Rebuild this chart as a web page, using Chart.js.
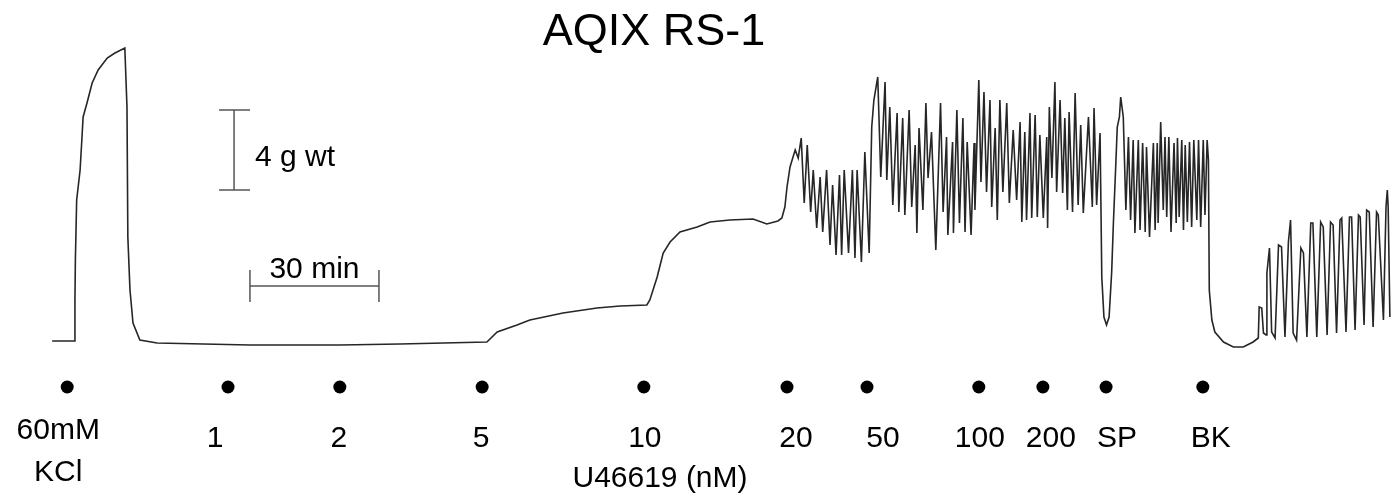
<!DOCTYPE html>
<html>
<head>
<meta charset="utf-8">
<title>AQIX RS-1</title>
<script src="https://cdn.jsdelivr.net/npm/chart.js@4/dist/chart.umd.min.js"></script>
<style>
  html, body { margin: 0; padding: 0; background: #fff; }
  #wrap { width: 1391px; height: 498px; }
</style>
</head>
<body>
<div id="wrap"><canvas id="trace" width="1391" height="498"></canvas></div>
<script>
// isometric tension trace, time in min, tension in g
const traceTime = [
  0.5, 5.6, 5.8, 5.9, 6.2, 7.0, 7.4, 7.7, 8.6, 9.8, 11.2, 13.3, 15.1, 17.4, 17.9, 18.1, 18.6, 19.3, 20.9, 24.9, 46.5, 67.4, 81.4, 101.6,
  104.0, 108.6, 111.6, 119.3, 127.2, 132.6, 138.8, 139.5, 141.2, 142.6, 144.2, 146.5, 150.5, 153.5, 158.1, 163.5, 166.7, 169.3, 170.2, 170.9, 171.4, 172.1, 172.8, 173.3, 174.0, 174.7,
  175.4, 176.1, 176.9, 177.5, 178.3, 179.1, 179.7, 180.6, 181.4, 182.0, 182.8, 183.6, 184.1, 184.7, 185.7, 186.6, 187.2, 187.7, 188.7, 189.5, 190.5,
  191.1, 191.6, 192.5, 193.2, 194.2, 194.6, 195.3, 196.0, 197.0, 197.4, 198.3, 198.8, 199.8, 200.4, 201.2, 201.6, 202.1, 203.0, 203.7, 204.2, 205.0, 206.0,
  207.1, 207.7, 208.5, 208.8, 209.9, 210.1, 210.9, 211.5, 212.3, 212.8, 213.3, 214.2, 214.9, 215.1,
  216.0, 216.5, 217.2, 217.8, 218.6, 219.0, 219.8, 220.3, 220.9, 221.6, 222.5, 223.1, 224.0, 224.8, 225.6, 226.0, 226.7, 227.1, 227.9, 228.3, 229.1, 229.6, 230.2, 231.0,
  231.8, 232.0, 232.4, 233.0, 233.7, 234.1, 234.9, 235.5, 236.0, 236.6, 237.0, 237.8, 238.4, 239.1, 239.7, 240.3, 241.5, 242.4, 242.8, 243.4, 244.2,
  244.6, 245.1, 245.7, 246.3, 246.9, 247.3, 247.9, 248.2, 248.7, 249.0, 249.6,
  250.2, 250.8, 251.3, 251.9, 252.3, 253.1, 253.5, 254.1, 254.7, 255.0, 255.7, 256.6, 257.0, 257.5, 257.7, 258.3, 258.9, 259.3, 259.7, 260.2, 260.7,
  261.4, 261.9, 262.2, 262.6, 263.2, 263.6, 264.0, 264.5, 265.0, 265.5, 266.0, 266.7, 267.1, 267.6, 268.2, 268.6, 269.1, 269.4,
  269.6, 270.2, 270.9, 272.9, 275.2, 277.5, 279.8, 281.0,
  281.2, 281.8, 282.2, 282.8, 283.0, 283.6, 284.1, 284.9, 285.7, 286.4, 287.2, 288.0, 288.5, 289.1, 289.9, 290.9, 291.5, 292.3,
  293.2, 293.7, 294.6, 295.5, 296.1, 297.0, 297.8, 298.4, 299.2, 300.0, 300.4, 301.4, 302.2, 302.7, 303.5, 304.3, 304.7, 305.6,
  306.2, 306.8, 307.7, 308.5, 308.9, 310.1, 310.7, 311.0, 311.2, 311.6
];
const traceTension = [
  0.2, 0.2, 2.25, 4.25, 7.25, 8.75, 10.25, 11.4, 12.1, 13.1, 13.75, 14.35, 14.6, 14.85, 11.9, 5.4, 2.75, 1.1, 0.25, 0.1, 0, 0, 0.05, 0.15,
  0.65, 1.0, 1.25, 1.6, 1.85, 1.95, 2.0, 2.25, 3.4, 4.6, 5.15, 5.65, 5.9, 6.15, 6.25, 6.3, 6.05, 6.2, 6.35, 6.9, 7.9, 8.9, 9.4, 9.75, 9.35, 10.35,
  7.1, 10.0, 6.65, 8.75, 5.85, 8.4, 5.65, 8.75, 5.0, 8.0, 4.5, 8.5, 4.5, 8.75, 4.6, 8.75, 4.35, 8.75, 4.15, 9.65, 4.6,
  10.9, 12.25, 13.4, 8.4, 13.15, 8.25, 11.9, 7.0, 11.6, 6.65, 11.35, 6.5, 11.75, 6.9, 10.0, 5.6, 10.85, 6.75, 12.1, 8.35, 10.65, 4.75,
  12.1, 6.65, 10.4, 5.5, 10.15, 5.6, 11.75, 6.1, 11.35, 5.65, 10.15, 5.5, 10.1, 6.75,
  13.25, 8.15, 12.65, 7.65, 12.25, 6.9, 10.85, 6.25, 12.25, 7.65, 12.1, 7.1, 10.75, 7.25, 11.15, 6.15, 10.65, 6.25, 11.6, 6.35, 11.5, 6.4, 10.5, 6.35,
  10.4, 5.85, 11.9, 8.35, 13.15, 7.65, 12.25, 7.6, 11.35, 6.75, 11.65, 6.65, 12.6, 7.0, 11.0, 6.6, 11.4, 6.9, 11.85, 7.0, 10.6,
  3.4, 1.4, 1.0, 1.4, 3.65, 6.1, 9.25, 10.9, 11.4, 12.4, 11.4,
  6.75, 10.4, 6.25, 10.25, 5.6, 10.25, 5.75, 10.1, 5.65, 9.9, 5.4, 10.1, 5.75, 10.1, 6.1, 11.15, 6.75, 10.4, 6.4, 10.4, 5.65,
  10.1, 6.1, 10.35, 6.4, 10.25, 5.75, 10.0, 6.15, 10.15, 5.9, 10.25, 6.25, 10.25, 5.9, 10.25, 6.5, 10.25, 9.25,
  2.75, 1.25, 0.65, 0.15, -0.1, -0.1, 0.15, 0.35,
  1.9, 1.85, 0.6, 0.5, 3.6, 4.85, 0.65, 0.35, 5.0, 4.9, 0.4, 5.15, 6.25, 0.6, 0.25, 4.85, 4.6, 0.4,
  6.1, 6.1, 0.4, 6.15, 5.9, 0.5, 6.15, 6.0, 0.6, 6.25, 6.35, 0.65, 6.4, 6.4, 0.75, 6.5, 6.4, 1.0,
  6.75, 6.65, 0.9, 6.65, 6.5, 1.25, 6.9, 7.75, 6.9, 1.4
];

// drug additions (min) and their labels
const doseTimes = [4.0, 41.4, 67.4, 100.5, 138.1, 171.4, 190.0, 216.0, 230.9, 245.6, 268.1];
const doseLabels = [['60mM', 'KCl'], '1', '2', '5', '10', '20', '50', '100', '200', 'SP', 'BK'];

const titleText = 'AQIX RS-1';
const drugName = 'U46619 (nM)';
const scaleTension = 4;   // g
const scaleTime = 30;     // min

const FONT = '"Liberation Sans", Arial, Helvetica, sans-serif';

const annotations = {
  id: 'annotations',
  afterDraw(chart) {
    const { ctx, scales: { x, y } } = chart;
    ctx.save();

    // title
    ctx.fillStyle = '#000';
    ctx.textAlign = 'center';
    ctx.textBaseline = 'alphabetic';
    ctx.font = `45px ${FONT}`;
    ctx.fillText(titleText, 654, 45);

    // calibration bars
    ctx.strokeStyle = '#555';
    ctx.lineWidth = 1.5;
    const bx = x.getPixelForValue(42.8);
    const bTop = y.getPixelForValue(7.75 + scaleTension);
    const bBot = y.getPixelForValue(7.75);
    ctx.beginPath();
    ctx.moveTo(bx, bTop); ctx.lineTo(bx, bBot);
    ctx.moveTo(bx - 15, bTop); ctx.lineTo(bx + 16, bTop);
    ctx.moveTo(bx - 15, bBot); ctx.lineTo(bx + 16, bBot);
    const tL = x.getPixelForValue(46.5);
    const tR = x.getPixelForValue(46.5 + scaleTime);
    const ty = y.getPixelForValue(2.95);
    ctx.moveTo(tL, ty); ctx.lineTo(tR, ty);
    ctx.moveTo(tL, ty - 16); ctx.lineTo(tL, ty + 16);
    ctx.moveTo(tR, ty - 16); ctx.lineTo(tR, ty + 16);
    ctx.stroke();

    ctx.font = `30px ${FONT}`;
    ctx.textAlign = 'left';
    ctx.fillText(`${scaleTension} g wt`, bx + 21, 166);
    ctx.textAlign = 'center';
    ctx.fillText(`${scaleTime} min`, (tL + tR) / 2, 278);

    // addition markers + labels
    const shift = [-9, -13, -1, -1, 1, 9, 16, 1, 8, 11, 8];
    doseTimes.forEach((t, i) => {
      const px = x.getPixelForValue(t);
      ctx.beginPath();
      ctx.arc(px, 387, 6.5, 0, Math.PI * 2);
      ctx.fill();
      const lab = doseLabels[i];
      if (Array.isArray(lab)) {
        ctx.fillText(lab[0], px + shift[i], 439);
        ctx.fillText(lab[1], px + shift[i], 481);
      } else {
        ctx.fillText(lab, px + shift[i], 447);
      }
    });
    ctx.fillText(drugName, 660, 487);
    ctx.restore();
  }
};

new Chart(document.getElementById('trace'), {
  type: 'line',
  data: {
    datasets: [{
      data: traceTime.map((t, i) => ({ x: t, y: traceTension[i] })),
      borderColor: '#262626',
      borderWidth: 1.6,
      pointRadius: 0,
      tension: 0,
      fill: false
    }]
  },
  options: {
    responsive: false,
    animation: false,
    devicePixelRatio: 1,
    layout: { padding: 0 },
    parsing: false,
    plugins: { legend: { display: false }, tooltip: { enabled: false }, title: { display: false } },
    scales: {
      x: { type: 'linear', display: false, min: -11.63, max: 311.86 },
      y: { type: 'linear', display: false, min: -7.65, max: 17.25 }
    }
  },
  plugins: [annotations]
});
</script>
</body>
</html>
